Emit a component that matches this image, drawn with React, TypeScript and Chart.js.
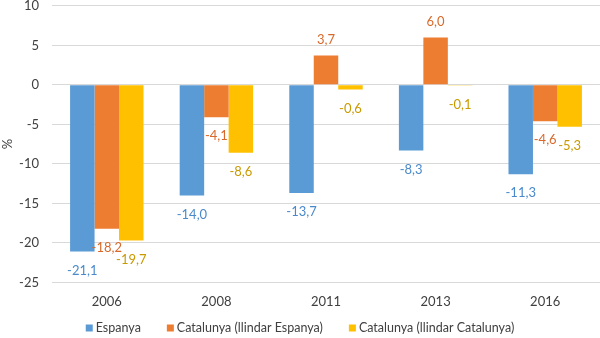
import React, { useEffect, useRef } from "react";
import { Chart, registerables } from "chart.js";

Chart.register(...registerables);

const categories = ["2006", "2008", "2011", "2013", "2016"];
const espanya = [-21.1, -14.0, -13.7, -8.3, -11.3];
const catEspanya = [-18.2, -4.1, 3.7, 6.0, -4.6];
const catCatalunya = [-19.7, -8.6, -0.6, -0.1, -5.3];
const seriesNames = ["Espanya", "Catalunya (llindar Espanya)", "Catalunya (llindar Catalunya)"];
const barColors = ["#5B9BD5", "#ED7D31", "#FFC000"];
const labelColors = ["#4A8ACB", "#D8692A", "#C99A00"];

const FONT = "Lato, 'Open Sans', sans-serif";
const SHIFT = 15;

const dataLabels = {
  id: "dataLabels",
  afterDatasetsDraw(chart: any) {
    const ctx = chart.ctx;
    ctx.save();
    ctx.font = `13px ${FONT}`;
    ctx.textAlign = "center";
    ctx.textBaseline = "middle";
    chart.data.datasets.forEach((ds: any, di: number) => {
      const meta = chart.getDatasetMeta(di);
      meta.data.forEach((el: any, i: number) => {
        const v = ds.data[i] as number;
        const y = v < 0 ? el.y + 19 : el.y - 16;
        ctx.fillStyle = labelColors[di];
        ctx.fillText(v.toFixed(1).replace(".", ","), el.x, y);
      });
    });
    ctx.restore();
  },
};

const customLegend = {
  id: "customLegend",
  afterDraw(chart: any) {
    const ctx = chart.ctx;
    ctx.save();
    ctx.font = `12.5px ${FONT}`;
    ctx.textBaseline = "middle";
    ctx.textAlign = "left";
    const box = 7;
    const gapBoxText = 3;
    const gapItems = 26;
    const widths = seriesNames.map((n) => ctx.measureText(n).width);
    const total =
      widths.reduce((a: number, w: number) => a + box + gapBoxText + w, 0) + gapItems * (seriesNames.length - 1);
    let x = chart.width / 2 - total / 2;
    const y = chart.height - 10;
    seriesNames.forEach((n, i) => {
      ctx.fillStyle = barColors[i];
      ctx.fillRect(x, y - box / 2, box, box);
      x += box + gapBoxText;
      ctx.fillStyle = "#404040";
      ctx.fillText(n, x, y);
      x += widths[i] + gapItems;
    });
    ctx.restore();
  },
};

export default function App() {
  const ref = useRef<HTMLCanvasElement>(null);
  useEffect(() => {
    document.body.style.margin = "0";
    const chart = new Chart(ref.current!, {
      type: "bar",
      data: {
        labels: categories,
        datasets: [espanya, catEspanya, catCatalunya].map((d, i) => ({
          label: seriesNames[i],
          data: d,
          backgroundColor: barColors[i],
          borderWidth: 0,
          categoryPercentage: 0.67,
          barPercentage: 1,
        })),
      },
      options: {
        animation: false,
        responsive: false,
        maintainAspectRatio: false,
        layout: { padding: { top: 0, right: 0, left: 0, bottom: 24 } },
        plugins: {
          tooltip: { enabled: false },
          legend: { display: false },
        },
        scales: {
          x: {
            grid: { display: false },
            border: { display: false },
            ticks: { color: "#404040", font: { family: FONT, size: 13 }, padding: 4 },
          },
          y: {
            min: -25,
            max: 10,
            afterFit: (scale: any) => {
              scale.width = 52;
            },
            grid: { color: "#D9D9D9", lineWidth: 1, drawTicks: false },
            border: { display: false },
            ticks: { stepSize: 5, color: "#404040", font: { family: FONT, size: 13 }, padding: 13 },
            title: {
              display: true,
              text: "%",
              color: "#404040",
              font: { family: FONT, size: 13 },
              padding: { top: 0, bottom: 2 },
            },
          },
        },
      },
      plugins: [dataLabels, customLegend],
    });
    return () => chart.destroy();
  }, []);
  return (
    <div style={{ width: 600, height: 338, overflow: "hidden" }}>
      <canvas
        ref={ref}
        width={600}
        height={338 + SHIFT}
        style={{ width: 600, height: 338 + SHIFT, display: "block", marginTop: -SHIFT }}
      />
    </div>
  );
}
